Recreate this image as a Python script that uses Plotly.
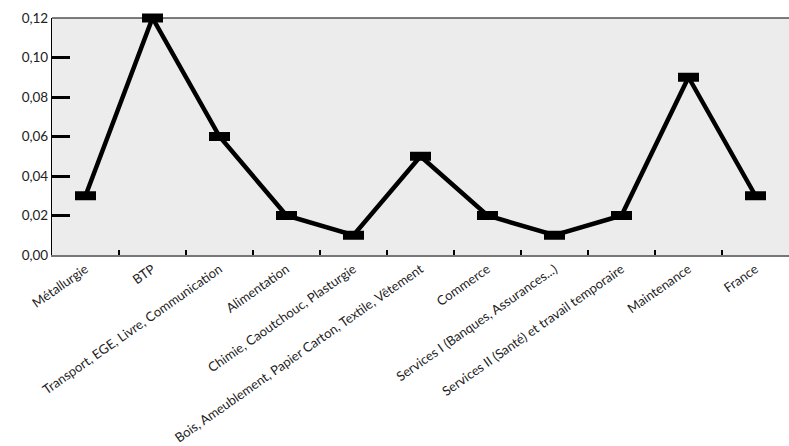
import plotly.graph_objects as go

categories = [
    "Métallurgie",
    "BTP",
    "Transport, EGE, Livre, Communication",
    "Alimentation",
    "Chimie, Caoutchouc, Plasturgie",
    "Bois, Ameublement, Papier Carton, Textile, Vêtement",
    "Commerce",
    "Services I (Banques, Assurances...)",
    "Services II (Santé) et travail temporaire",
    "Maintenance",
    "France",
]
values = [0.03, 0.12, 0.06, 0.02, 0.01, 0.05, 0.02, 0.01, 0.02, 0.09, 0.03]
y_ticks = [0.0, 0.02, 0.04, 0.06, 0.08, 0.10, 0.12]

font_family = "Lato, Open Sans, sans-serif"

fig = go.Figure()
fig.add_trace(go.Scatter(
    x=categories, y=values, mode="lines",
    line=dict(color="black", width=4.5),
    cliponaxis=False, hoverinfo="skip",
))
fig.add_trace(go.Scatter(
    x=categories, y=values, mode="markers",
    marker=dict(symbol="line-ew", size=15, color="black",
                line=dict(color="black", width=9)),
    cliponaxis=False,
))

fig.update_layout(
    width=789, height=446,
    margin=dict(l=52, r=0, t=18, b=191),
    paper_bgcolor="white",
    plot_bgcolor="#ebeceb",
    showlegend=False,
    separators=", ",
    font=dict(family=font_family, color="#222", size=13),
    xaxis=dict(
        type="category",
        range=[-0.5, len(categories) - 0.5],
        tickangle=-35,
        tickson="boundaries",
        ticks="inside", ticklen=5, tickwidth=2, tickcolor="black",
        showline=True, linecolor="#777", linewidth=1.5,
        showgrid=False, zeroline=False,
        automargin=False,
        tickfont=dict(size=13, family=font_family, color="#222"),
    ),
    yaxis=dict(
        range=[0, 0.12],
        tickvals=y_ticks,
        tickformat=".2f",
        ticks="inside", ticklen=18, tickwidth=2.5, tickcolor="black",
        showline=True, linecolor="black", linewidth=1.2,
        showgrid=False, zeroline=False,
        automargin=False,
        tickfont=dict(size=13.5, family=font_family, color="#222"),
    ),
    shapes=[dict(type="line", xref="paper", yref="paper",
                 x0=0, x1=1, y0=1, y1=1,
                 line=dict(color="black", width=1.2))],
)

fig.write_html(
    "out.html",
    config={"displayModeBar": False},
    post_script="document.body.style.margin='0';document.body.style.overflow='hidden';",
)
